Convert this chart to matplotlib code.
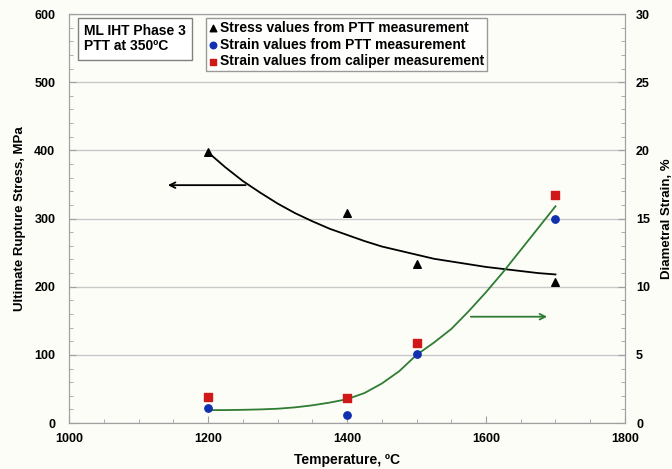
import numpy as np
import matplotlib
matplotlib.use('Agg')
from matplotlib import pyplot as plt
from matplotlib.ticker import MultipleLocator

plt.rcParams['font.family'] = 'Liberation Sans'
plt.rcParams['font.weight'] = 'bold'

# measured points
temp = [1200, 1400, 1500, 1700]
stress_ptt = [397, 308, 234, 207]
strain_ptt = [1.1, 0.6, 5.1, 15.0]
strain_caliper = [1.9, 1.85, 5.9, 16.7]

# trend lines
trend_t = [1200, 1225, 1250, 1275, 1300, 1325, 1350, 1375, 1400, 1425, 1450, 1475,
           1500, 1525, 1550, 1575, 1600, 1625, 1650, 1675, 1700]
stress_trend = [397, 375, 355, 338, 322, 308, 296, 285, 276, 267, 259, 253,
                247, 241, 237, 233, 229, 226, 223, 220, 218]
strain_trend = [0.95, 0.95, 0.97, 1.0, 1.05, 1.15, 1.3, 1.5, 1.75, 2.2, 2.9, 3.8,
                5.0, 5.9, 6.9, 8.2, 9.6, 11.1, 12.7, 14.3, 15.9]

bg = '#fdfdf8'
fig = plt.figure(figsize=(6.72, 4.69), dpi=100, facecolor=bg)
ax = fig.add_axes([0.103, 0.098, 0.827, 0.872])
ax.set_facecolor(bg)
ax2 = ax.twinx()

ax.set_xlim(1000, 1800)
ax.set_ylim(0, 600)
ax2.set_ylim(0, 30)

ax.yaxis.set_major_locator(MultipleLocator(100))
ax.yaxis.set_minor_locator(MultipleLocator(20))
ax.xaxis.set_major_locator(MultipleLocator(200))
ax.xaxis.set_minor_locator(MultipleLocator(50))
ax2.yaxis.set_major_locator(MultipleLocator(5))
ax2.yaxis.set_minor_locator(MultipleLocator(1))

ax.grid(axis='y', which='major', color='#c8c8c8', lw=1)
ax.set_axisbelow(True)

for a in (ax, ax2):
    for s in a.spines.values():
        s.set_color('#a0a0a0')
    a.tick_params(which='both', direction='in', colors='#a0a0a0', labelcolor='black', labelsize=9)
    a.tick_params(which='major', length=5)
    a.tick_params(which='minor', length=3)
ax.tick_params(axis='y', which='major', pad=10)
ax2.tick_params(axis='y', which='major', pad=8)
ax.tick_params(axis='x', which='major', pad=7)

ax.plot(trend_t, stress_trend, color='black', lw=1.3)
ax2.plot(trend_t, strain_trend, color='#2e7d32', lw=1.3)

ax.scatter(temp, stress_ptt, marker='^', color='black', s=30, zorder=5)
ax2.scatter(temp, strain_ptt, marker='o', color='#1030b0', s=28, zorder=5)
ax2.scatter(temp, strain_caliper, marker='s', color='#d01818', s=28, zorder=4)

# arrows pointing to the axis each curve belongs to
ax.annotate('', xy=(1138, 349), xytext=(1258, 349),
            arrowprops=dict(arrowstyle='->', color='black', lw=1.3))
ax2.annotate('', xy=(1692, 7.8), xytext=(1574, 7.8),
             arrowprops=dict(arrowstyle='->', color='#2e7d32', lw=1.3))

ax.set_xlabel('Temperature, \u00baC', fontsize=10, fontweight='bold', labelpad=6)
ax.set_ylabel('Ultimate Rupture Stress, MPa', fontsize=9.5, fontweight='bold', labelpad=6)
ax2.set_ylabel('Diametral Strain, %', fontsize=9.5, fontweight='bold', labelpad=8)

ax.text(0.027, 0.975, 'ML IHT Phase 3\nPTT at 350\u00baC', transform=ax.transAxes,
        fontsize=10, fontweight='bold', va='top', ha='left', linespacing=1.1,
        bbox=dict(boxstyle='square,pad=0.45', fc='white', ec='#808080', lw=1))

h1 = ax.scatter([], [], marker='^', color='black', s=22)
h2 = ax.scatter([], [], marker='o', color='#1030b0', s=22)
h3 = ax.scatter([], [], marker='s', color='#d01818', s=22)
leg = ax.legend([h1, h2, h3],
                ['Stress values from PTT measurement',
                 'Strain values from PTT measurement',
                 'Strain values from caliper measurement'],
                loc='upper left', bbox_to_anchor=(0.233, 1.007),
                frameon=True, fancybox=False, handlelength=0.6, handletextpad=0.2,
                borderpad=0.2, labelspacing=0.2, prop={'weight': 'bold', 'size': 10})
leg.get_frame().set_edgecolor('#808080')
leg.get_frame().set_linewidth(1)

fig.savefig('out.png', dpi=100, facecolor=bg)
